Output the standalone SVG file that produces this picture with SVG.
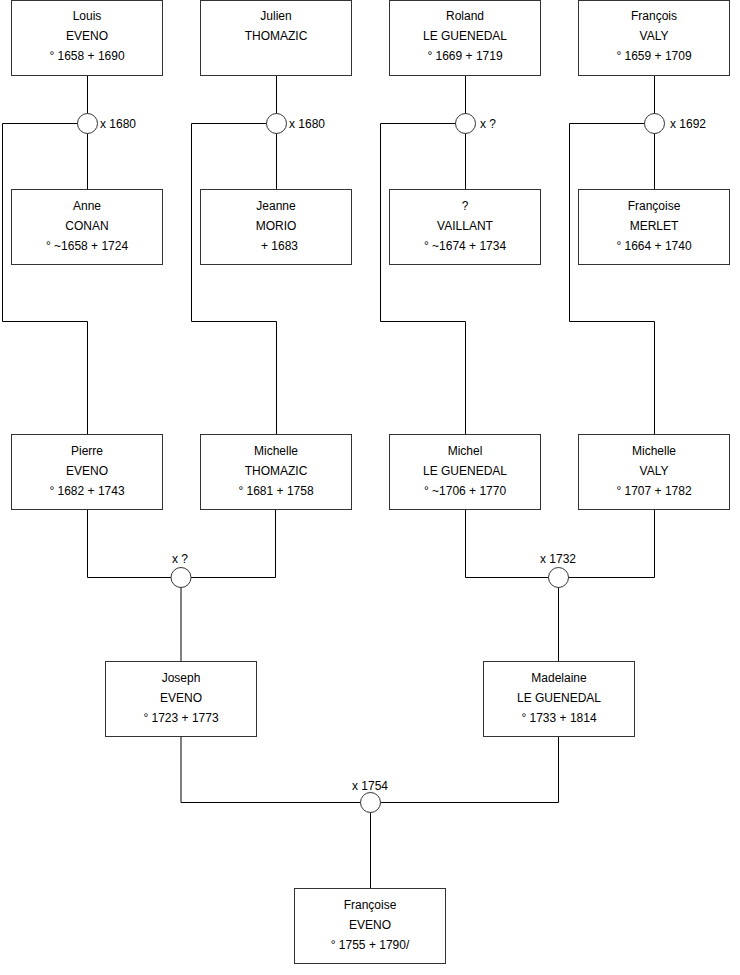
<svg xmlns="http://www.w3.org/2000/svg" width="740" height="975" viewBox="0 0 740 975">
<style>
.box{fill:#fff;stroke:#333;stroke-width:1}
.ln{fill:none;stroke:#000;stroke-width:1}
.ring{fill:#fff;stroke:#333;stroke-width:1}
text{font-family:"Liberation Sans",Arial,sans-serif;font-size:12px;fill:#000}
.c{text-anchor:middle}
</style>
<rect width="740" height="975" fill="#fff"/>
<g id="connectors">
<path class="ln" d="M87.5 76V189M2.5 123.5H87.5M2.5 123.5V321.5H87.5V434"/>
<path class="ln" d="M276.5 76V189M191.5 123.5H276.5M191.5 123.5V321.5H276.5V434"/>
<path class="ln" d="M465.5 76V189M380.5 123.5H465.5M380.5 123.5V321.5H465.5V434"/>
<path class="ln" d="M654.5 76V189M569.5 123.5H654.5M569.5 123.5V321.5H654.5V434"/>
<path class="ln" d="M87.5 510V577.5H275.5V510M181 577.5V661"/>
<path class="ln" d="M465.5 510V577.5H654.5V510M558.5 577.5V661"/>
<path class="ln" d="M181 737V802.5H558.5V737M370.5 802.5V888"/>
</g>
<g id="m1"><circle class="ring" cx="87.5" cy="123.5" r="10"/><text x="100" y="128">x 1680</text></g>
<g id="m2"><circle class="ring" cx="276.5" cy="123.5" r="10"/><text x="289" y="128">x 1680</text></g>
<g id="m3"><circle class="ring" cx="465.5" cy="123.5" r="10"/><text x="480" y="128">x ?</text></g>
<g id="m4"><circle class="ring" cx="654.5" cy="123.5" r="10"/><text x="670" y="128">x 1692</text></g>
<g id="m5"><circle class="ring" cx="181" cy="577.5" r="10"/><text class="c" x="180" y="563">x ?</text></g>
<g id="m6"><circle class="ring" cx="558.5" cy="577.5" r="10"/><text class="c" x="558" y="563">x 1732</text></g>
<g id="m7"><circle class="ring" cx="370.5" cy="802.5" r="10"/><text class="c" x="370" y="790">x 1754</text></g>
<g id="louis"><rect class="box" x="11.5" y="0.5" width="151" height="75"/><text class="c" x="87" y="20">Louis</text><text class="c" x="87" y="40">EVENO</text><text class="c" x="87" y="60">° 1658 + 1690</text></g>
<g id="julien"><rect class="box" x="200.5" y="0.5" width="151" height="75"/><text class="c" x="276" y="20">Julien</text><text class="c" x="276" y="40">THOMAZIC</text></g>
<g id="roland"><rect class="box" x="389.5" y="0.5" width="151" height="75"/><text class="c" x="465" y="20">Roland</text><text class="c" x="465" y="40">LE GUENEDAL</text><text class="c" x="465" y="60">° 1669 + 1719</text></g>
<g id="francois"><rect class="box" x="578.5" y="0.5" width="151" height="75"/><text class="c" x="654" y="20">François</text><text class="c" x="654" y="40">VALY</text><text class="c" x="654" y="60">° 1659 + 1709</text></g>
<g id="anne"><rect class="box" x="11.5" y="189.5" width="151" height="75"/><text class="c" x="87" y="210">Anne</text><text class="c" x="87" y="230">CONAN</text><text class="c" x="87" y="250">° ~1658 + 1724</text></g>
<g id="jeanne"><rect class="box" x="200.5" y="189.5" width="151" height="75"/><text class="c" x="276" y="210">Jeanne</text><text class="c" x="276" y="230">MORIO</text><text x="261" y="250">+ 1683</text></g>
<g id="vaillant"><rect class="box" x="389.5" y="189.5" width="151" height="75"/><text class="c" x="465" y="210">?</text><text class="c" x="465" y="230">VAILLANT</text><text class="c" x="465" y="250">° ~1674 + 1734</text></g>
<g id="francoise-m"><rect class="box" x="578.5" y="189.5" width="151" height="75"/><text class="c" x="654" y="210">Françoise</text><text class="c" x="654" y="230">MERLET</text><text class="c" x="654" y="250">° 1664 + 1740</text></g>
<g id="pierre"><rect class="box" x="11.5" y="434.5" width="151" height="75"/><text class="c" x="87" y="455">Pierre</text><text class="c" x="87" y="475">EVENO</text><text class="c" x="87" y="495">° 1682 + 1743</text></g>
<g id="michelle-t"><rect class="box" x="200.5" y="434.5" width="151" height="75"/><text class="c" x="276" y="455">Michelle</text><text class="c" x="276" y="475">THOMAZIC</text><text class="c" x="276" y="495">° 1681 + 1758</text></g>
<g id="michel"><rect class="box" x="389.5" y="434.5" width="151" height="75"/><text class="c" x="465" y="455">Michel</text><text class="c" x="465" y="475">LE GUENEDAL</text><text class="c" x="465" y="495">° ~1706 + 1770</text></g>
<g id="michelle-v"><rect class="box" x="578.5" y="434.5" width="151" height="75"/><text class="c" x="654" y="455">Michelle</text><text class="c" x="654" y="475">VALY</text><text class="c" x="654" y="495">° 1707 + 1782</text></g>
<g id="joseph"><rect class="box" x="105.5" y="661.5" width="151" height="75"/><text class="c" x="181" y="682">Joseph</text><text class="c" x="181" y="702">EVENO</text><text class="c" x="181" y="722">° 1723 + 1773</text></g>
<g id="madelaine"><rect class="box" x="483.5" y="661.5" width="151" height="75"/><text class="c" x="559" y="682">Madelaine</text><text class="c" x="559" y="702">LE GUENEDAL</text><text class="c" x="559" y="722">° 1733 + 1814</text></g>
<g id="francoise-e"><rect class="box" x="294.5" y="888.5" width="151" height="75"/><text class="c" x="370" y="909">Françoise</text><text class="c" x="370" y="929">EVENO</text><text class="c" x="370" y="949">° 1755 + 1790/</text></g>
</svg>
